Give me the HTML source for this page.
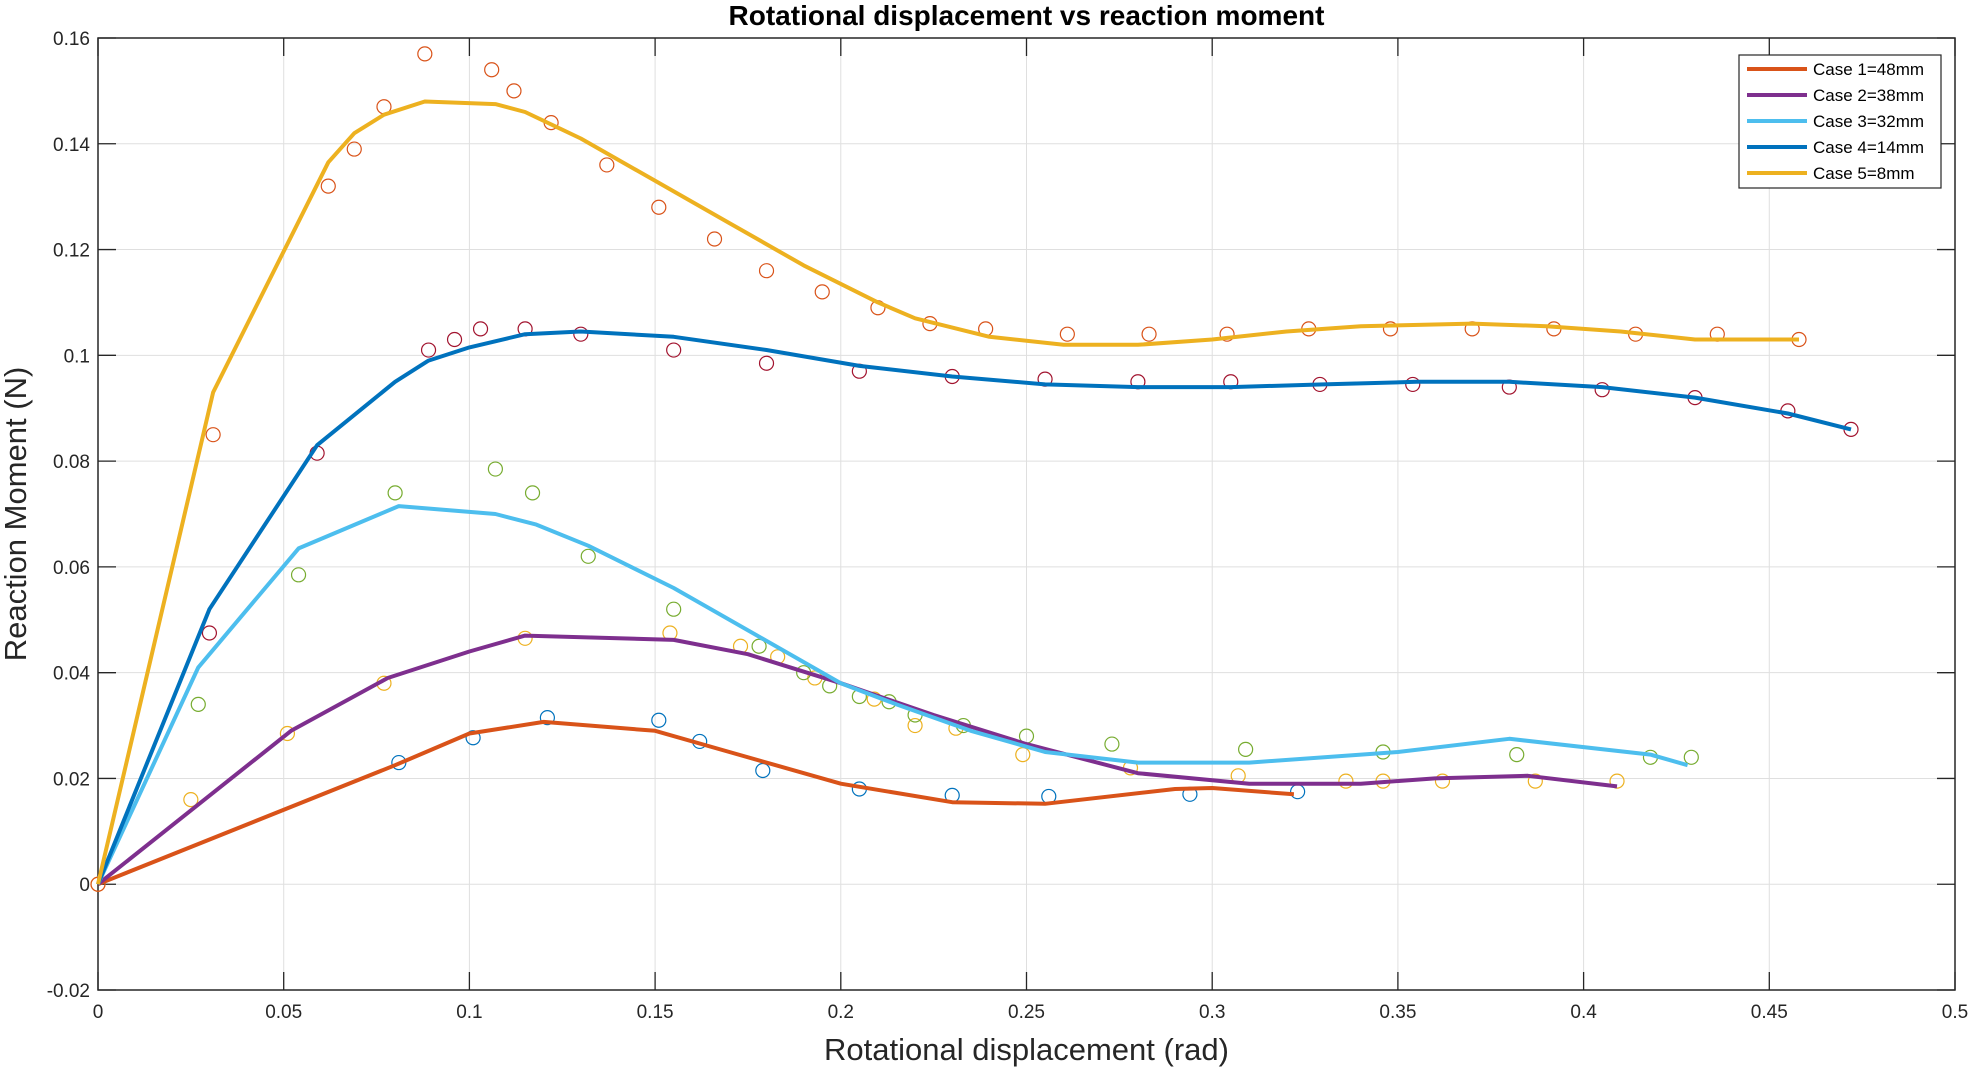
<!DOCTYPE html>
<html><head><meta charset="utf-8"><style>
html,body{margin:0;padding:0;background:#fff;}
svg{display:block;font-family:"Liberation Sans",Arial,sans-serif;}
</style></head><body>
<svg id="chart" width="1974" height="1070" viewBox="0 0 1974 1070"></svg>
<script>
const xTicks=[0,0.05,0.1,0.15,0.2,0.25,0.3,0.35,0.4,0.45,0.5];
const xTickLabels=["0","0.05","0.1","0.15","0.2","0.25","0.3","0.35","0.4","0.45","0.5"];
const yTicks=[-0.02,0,0.02,0.04,0.06,0.08,0.1,0.12,0.14,0.16];
const yTickLabels=["-0.02","0","0.02","0.04","0.06","0.08","0.1","0.12","0.14","0.16"];
const seriesNames=["Case 1=48mm","Case 2=38mm","Case 3=32mm","Case 4=14mm","Case 5=8mm"];
const c1LineX=[0,0.08,0.1,0.12,0.15,0.17,0.2,0.23,0.255,0.29,0.3,0.322];
const c1LineY=[0,0.0225,0.0285,0.0307,0.029,0.025,0.019,0.0155,0.0152,0.018,0.0182,0.017];
const c1PtsX=[0.081,0.101,0.121,0.151,0.162,0.179,0.205,0.23,0.256,0.294,0.323];
const c1PtsY=[0.023,0.0277,0.0315,0.031,0.027,0.0215,0.018,0.0168,0.0166,0.017,0.0175];
const c2LineX=[0,0.052,0.078,0.1,0.115,0.155,0.175,0.2,0.225,0.25,0.28,0.31,0.34,0.36,0.385,0.409];
const c2LineY=[0,0.029,0.039,0.044,0.047,0.0462,0.0435,0.038,0.032,0.0265,0.021,0.019,0.019,0.020,0.0205,0.0185];
const c2PtsX=[0,0.025,0.051,0.077,0.115,0.154,0.173,0.183,0.193,0.209,0.22,0.231,0.249,0.278,0.307,0.336,0.346,0.362,0.387,0.409];
const c2PtsY=[0,0.016,0.0285,0.038,0.0465,0.0475,0.045,0.043,0.039,0.035,0.030,0.0295,0.0245,0.022,0.0205,0.0195,0.0195,0.0195,0.0195,0.0195];
const c3LineX=[0,0.027,0.054,0.081,0.107,0.118,0.132,0.155,0.18,0.2,0.215,0.235,0.255,0.28,0.31,0.35,0.38,0.418,0.428];
const c3LineY=[0,0.041,0.0635,0.0715,0.070,0.068,0.064,0.056,0.046,0.038,0.034,0.029,0.025,0.023,0.023,0.025,0.0275,0.0245,0.0225];
const c3PtsX=[0.027,0.054,0.08,0.107,0.117,0.132,0.155,0.178,0.19,0.197,0.205,0.213,0.22,0.233,0.25,0.273,0.309,0.346,0.382,0.418,0.429];
const c3PtsY=[0.034,0.0585,0.074,0.0785,0.074,0.062,0.052,0.045,0.040,0.0375,0.0355,0.0345,0.032,0.030,0.028,0.0265,0.0255,0.025,0.0245,0.024,0.024];
const c4LineX=[0,0.03,0.059,0.08,0.089,0.1,0.115,0.13,0.155,0.18,0.205,0.23,0.255,0.28,0.305,0.33,0.355,0.38,0.405,0.43,0.455,0.472];
const c4LineY=[0,0.052,0.083,0.095,0.099,0.1015,0.104,0.1045,0.1035,0.101,0.098,0.096,0.0945,0.094,0.094,0.0945,0.095,0.095,0.094,0.092,0.089,0.086];
const c4PtsX=[0.03,0.059,0.089,0.096,0.103,0.115,0.13,0.155,0.18,0.205,0.23,0.255,0.28,0.305,0.329,0.354,0.38,0.405,0.43,0.455,0.472];
const c4PtsY=[0.0475,0.0815,0.101,0.103,0.105,0.105,0.104,0.101,0.0985,0.097,0.096,0.0955,0.095,0.095,0.0945,0.0945,0.094,0.0935,0.092,0.0895,0.086];
const c5LineX=[0,0.031,0.062,0.069,0.077,0.088,0.107,0.115,0.13,0.15,0.17,0.19,0.21,0.22,0.24,0.26,0.28,0.30,0.32,0.34,0.37,0.39,0.41,0.43,0.458];
const c5LineY=[0,0.093,0.1365,0.142,0.1455,0.148,0.1475,0.146,0.141,0.133,0.125,0.117,0.110,0.107,0.1035,0.102,0.102,0.103,0.1045,0.1055,0.106,0.1055,0.1045,0.103,0.103];
const c5PtsX=[0,0.031,0.062,0.069,0.077,0.088,0.106,0.112,0.122,0.137,0.151,0.166,0.18,0.195,0.21,0.224,0.239,0.261,0.283,0.304,0.326,0.348,0.37,0.392,0.414,0.436,0.458];
const c5PtsY=[0,0.085,0.132,0.139,0.147,0.157,0.154,0.150,0.144,0.136,0.128,0.122,0.116,0.112,0.109,0.106,0.105,0.104,0.104,0.104,0.105,0.105,0.105,0.105,0.104,0.104,0.103];

const L=98,R=1955,T=38,B=990;
const xs=v=>L+(v-0)/(0.5-0)*(R-L);
const ys=v=>B-(v+0.02)/(0.18)*(B-T);
const NS="http://www.w3.org/2000/svg";
const svg=document.getElementById('chart');
function mk(tag,attrs,parent){const e=document.createElementNS(NS,tag);for(const k in attrs)e.setAttribute(k,attrs[k]);(parent||svg).appendChild(e);return e;}

const grid=mk('g',{});


xTicks.forEach((t,i)=>{
  const x=xs(t);
  mk('line',{x1:x,x2:x,y1:T,y2:B,stroke:'#dfdfdf','stroke-width':1},grid);
  mk('line',{x1:x,x2:x,y1:B,y2:B-18,stroke:'#262626','stroke-width':1.3},grid);
  mk('line',{x1:x,x2:x,y1:T,y2:T+18,stroke:'#262626','stroke-width':1.3},grid);
  const tx=mk('text',{x:x,y:B+28,'text-anchor':'middle','font-size':19,fill:'#262626'});
  tx.textContent=xTickLabels[i];
  
  
});
yTicks.forEach((t,i)=>{
  const y=ys(t);
  mk('line',{x1:L,x2:R,y1:y,y2:y,stroke:'#dfdfdf','stroke-width':1},grid);
  mk('line',{x1:L,x2:L+18,y1:y,y2:y,stroke:'#262626','stroke-width':1.3},grid);
  mk('line',{x1:R,x2:R-18,y1:y,y2:y,stroke:'#262626','stroke-width':1.3},grid);
  const tx=mk('text',{x:L-8,y:y+7,'text-anchor':'end','font-size':19,fill:'#262626'});
  tx.textContent=yTickLabels[i];
  
  
});
const frame=mk('rect',{x:L,y:T,width:R-L,height:B-T,fill:'none',stroke:'#262626','stroke-width':1.5});



const lineColors=['#D95319','#7E2F8E','#4DBEEE','#0072BD','#EDB120'];
const markColors=['#0072BD','#EDB120','#77AC30','#A2142F','#D95319'];
const lines=[[c1LineX,c1LineY],[c2LineX,c2LineY],[c3LineX,c3LineY],[c4LineX,c4LineY],[c5LineX,c5LineY]];
const pts=[[c1PtsX,c1PtsY],[c2PtsX,c2PtsY],[c3PtsX,c3PtsY],[c4PtsX,c4PtsY],[c5PtsX,c5PtsY]];
pts.forEach((p,s)=>{
  const g=mk('g',{});
  
  
  p[0].forEach((xv,i)=>{
    const c=mk('circle',{cx:xs(xv),cy:ys(p[1][i]),r:7,fill:'none',stroke:markColors[s],'stroke-width':1.2},g);
    
    
  });
});
lines.forEach((l,s)=>{
  const d=l[0].map((xv,i)=>(i?'L':'M')+xs(xv).toFixed(1)+','+ys(l[1][i]).toFixed(1)).join(' ');
  const p=mk('path',{d:d,fill:'none',stroke:lineColors[s],'stroke-width':4,'stroke-linejoin':'round'});
  
  
});

const leg=mk('g',{});


mk('rect',{x:1739,y:55,width:202,height:133,fill:'#fff',stroke:'#262626','stroke-width':1.2},leg);
seriesNames.forEach((n,i)=>{
  const y=69+i*26;
  mk('line',{x1:1747,x2:1807,y1:y,y2:y,stroke:lineColors[i],'stroke-width':4},leg);
  const t=mk('text',{x:1813,y:y+6,'font-size':17,fill:'#000'},leg);
  t.textContent=n;
  
  
});

const title=mk('text',{x:(L+R)/2,y:25,'text-anchor':'middle','font-size':28,'font-weight':'bold',fill:'#000'});
title.textContent='Rotational displacement vs reaction moment';


const xl=mk('text',{x:(L+R)/2,y:1060,'text-anchor':'middle','font-size':31,fill:'#262626'});
xl.textContent='Rotational displacement (rad)';


const yl=mk('text',{x:0,y:0,'text-anchor':'middle','font-size':31,fill:'#262626',transform:'translate(26,'+((T+B)/2)+') rotate(-90)'});
yl.textContent='Reaction Moment (N)';


</script>
</body></html>
